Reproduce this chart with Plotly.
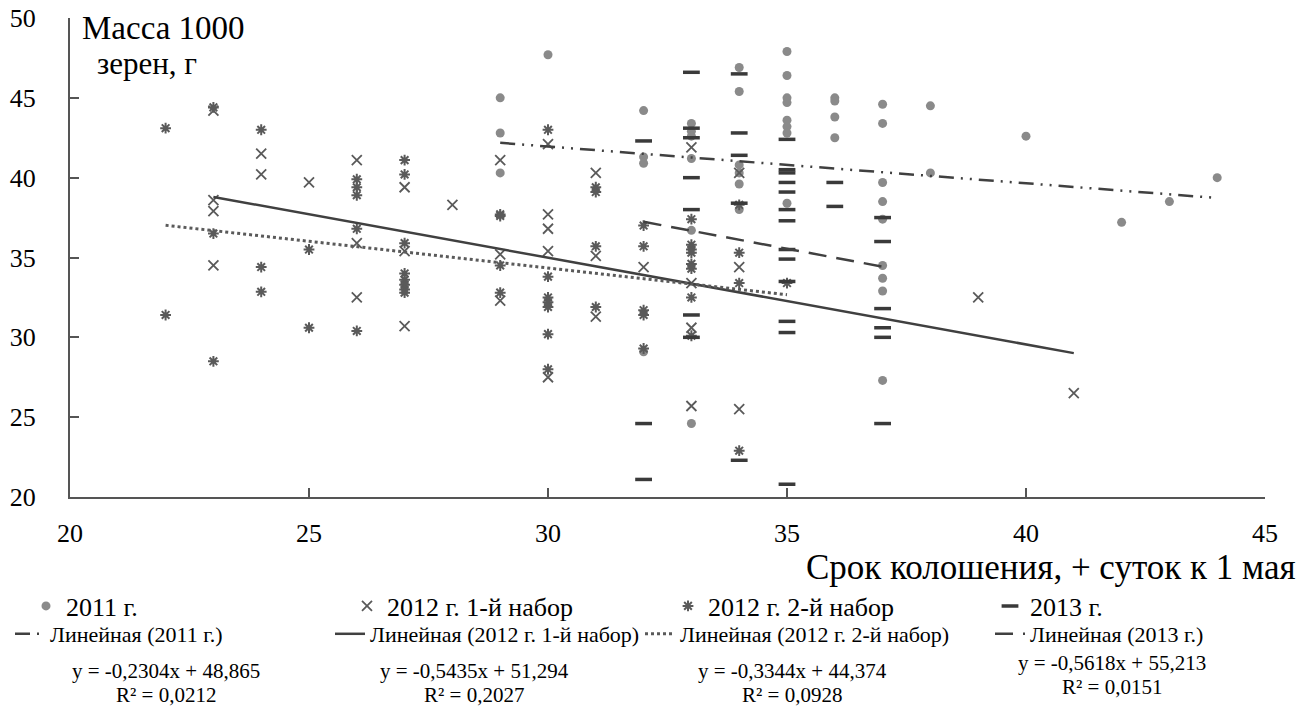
import plotly.graph_objects as go

# ---------------- data ----------------
x_2011 = [29, 29, 29, 30, 32, 32, 32, 32, 33, 33, 33, 33, 33, 33,
          34, 34, 34, 34, 34, 34, 35, 35, 35, 35, 35, 35, 35, 35,
          36, 36, 36, 36, 37, 37, 37, 37, 37, 37, 37, 37, 37,
          38, 38, 40, 42, 43, 44]
y_2011 = [45.0, 42.8, 40.3, 47.7, 44.2, 41.3, 40.9, 29.1, 43.4, 42.9, 42.6, 41.2, 36.7, 24.6,
          46.9, 45.4, 40.8, 40.3, 39.6, 38.0, 47.9, 46.4, 45.0, 44.7, 43.6, 43.2, 42.8, 38.4,
          45.0, 44.8, 43.8, 42.5, 44.6, 43.4, 39.7, 38.5, 37.4, 34.5, 33.7, 32.9, 27.3,
          44.5, 40.3, 42.6, 37.2, 38.5, 40.0]

x_2012_1 = [23, 23, 23, 23, 24, 24, 25, 26, 26, 26, 27, 27, 27, 28,
            29, 29, 29, 30, 30, 30, 30, 30, 31, 31, 31, 32,
            33, 33, 33, 33, 34, 34, 34, 39, 41]
y_2012_1 = [44.2, 38.6, 37.9, 34.5, 41.5, 40.2, 39.7, 41.1, 35.9, 32.5, 39.4, 35.4, 30.7, 38.3,
            41.1, 35.2, 32.3, 42.1, 37.7, 36.8, 35.4, 27.5, 40.3, 35.1, 31.3, 34.4,
            41.9, 33.4, 30.6, 25.7, 40.3, 34.4, 25.5, 32.5, 26.5]

x_2012_2 = [22, 22, 23, 23, 23, 24, 24, 24, 25, 25,
            26, 26, 26, 26, 26, 27, 27, 27, 27, 27, 27, 27, 27,
            29, 29, 29, 29, 30, 30, 30, 30, 30, 30, 30,
            31, 31, 31, 31, 32, 32, 32, 32, 32,
            33, 33, 33, 33, 33, 33, 33, 33, 34, 34, 34, 34, 35]
y_2012_2 = [43.1, 31.4, 44.4, 36.5, 28.5, 43.0, 34.4, 32.85, 35.5, 30.6,
            39.9, 39.4, 38.9, 36.8, 30.4, 41.1, 40.2, 35.9, 34.0, 33.6, 33.3, 33.0, 32.8,
            37.7, 37.6, 34.5, 32.8, 43.0, 33.8, 32.5, 32.2, 31.9, 30.2, 28.0,
            39.4, 39.1, 35.7, 31.9, 37.0, 35.7, 31.7, 31.4, 29.3,
            37.4, 35.8, 35.5, 35.3, 34.6, 34.3, 32.5, 30.1, 38.3, 35.3, 33.4, 22.9, 33.4]

x_2013 = [32, 32, 32, 33, 33, 33, 33, 33, 33, 33, 34, 34, 34, 34, 34,
          35, 35, 35, 35, 35, 35, 35, 35, 35, 35, 35, 35, 35,
          36, 36, 37, 37, 37, 37, 37, 37]
y_2013 = [42.3, 24.6, 21.1, 46.6, 43.1, 42.5, 40.0, 38.0, 31.4, 30.0, 46.5, 42.8, 41.4, 38.4, 22.3,
          42.4, 40.5, 40.3, 39.7, 39.1, 38.0, 37.3, 35.5, 34.9, 33.5, 31.0, 30.3, 20.8,
          39.7, 38.2, 37.5, 36.0, 31.8, 30.6, 30.0, 24.6]

series_names = ["2011 г.", "2012 г. 1-й набор", "2012 г. 2-й набор", "2013 г."]
trend_names = ["Линейная (2011 г.)", "Линейная (2012 г. 1-й набор)",
               "Линейная (2012 г. 2-й набор)", "Линейная (2013 г.)"]
slopes = [-0.2304, -0.5435, -0.3344, -0.5618]
intercepts = [48.865, 51.294, 44.374, 55.213]
r2_values = ["0,0212", "0,2027", "0,0928", "0,0151"]

x_ticks = [20, 25, 30, 35, 40, 45]
y_ticks = [20, 25, 30, 35, 40, 45, 50]

# ---------------- figure ----------------
FONT = "Liberation Serif"
W, H = 1304, 713
L, T, R, B = 70, 18, 39, 216
PW, PH = W - L - R, H - T - B
fig = go.Figure()

marker_styles = [
    dict(symbol="circle", size=9, color="#8a8a8a", line=dict(width=0)),
    dict(symbol="x-thin-open", size=10, color="#5a5a5a", line=dict(width=1.8, color="#5a5a5a")),
    dict(symbol="asterisk-open", size=9, color="#5a5a5a", line=dict(width=2, color="#5a5a5a")),
    dict(symbol="line-ew-open", size=12, color="#3a3a3a", line=dict(width=3.5, color="#3a3a3a")),
]
xs = [x_2011, x_2012_1, x_2012_2, x_2013]
ys = [y_2011, y_2012_1, y_2012_2, y_2013]

for i in range(4):
    fig.add_trace(go.Scatter(x=xs[i], y=ys[i], mode="markers", name=series_names[i],
                             marker=marker_styles[i], legend=f"legend{i + 1}" if i else "legend"))

line_styles = [
    dict(color="#404040", width=2.5, dash="15px,7px,2px,7px,2px,7px"),
    dict(color="#404040", width=2.5, dash="solid"),
    dict(color="#5a5a5a", width=3, dash="dot"),
    dict(color="#404040", width=2.5, dash="18px,10px"),
]
for i in range(4):
    x0, x1 = min(xs[i]), max(xs[i])
    fig.add_trace(go.Scatter(x=[x0, x1], y=[slopes[i] * x0 + intercepts[i], slopes[i] * x1 + intercepts[i]],
                             mode="lines", name=trend_names[i], line=line_styles[i],
                             legend=f"legend{i + 5}"))

# pixel helpers
def sx(px):
    return px / W

def sy(py):
    return 1 - py / H

def px_to_paper_x(px):
    return (px - L) / PW

def py_to_paper_y(py):
    return (H - B - py) / PH

# legends: one per entry, placed at pixel positions
row1_x = [26, 347, 668, 990]
row2_x = [10, 330, 640, 990]
legend_layout = {}
for i in range(4):
    key = "legend" if i == 0 else f"legend{i + 1}"
    legend_layout[key] = dict(xref="container", yref="container", x=sx(row1_x[i]), y=sy(606),
                              xanchor="left", yanchor="middle", font=dict(family=FONT, size=26, color="#000"),
                              bgcolor="rgba(0,0,0,0)", borderwidth=0)
    legend_layout[f"legend{i + 5}"] = dict(xref="container", yref="container", x=sx(row2_x[i]), y=sy(634),
                                           xanchor="left", yanchor="middle",
                                           font=dict(family=FONT, size=22, color="#000"),
                                           bgcolor="rgba(0,0,0,0)", borderwidth=0)

# equation annotations
eq_cx = [166, 474, 792, 1112]
eq_y = [671, 671, 671, 663]
for i in range(4):
    fig.add_annotation(xref="paper", yref="paper", x=px_to_paper_x(eq_cx[i]), y=py_to_paper_y(eq_y[i]),
                       text=f"y = {slopes[i]:.4f}x + {intercepts[i]:.3f}".replace(".", ","),
                       showarrow=False, xanchor="center", yanchor="middle",
                       font=dict(family=FONT, size=21, color="#000"))
    fig.add_annotation(xref="paper", yref="paper", x=px_to_paper_x(eq_cx[i]), y=py_to_paper_y(eq_y[i] + 24),
                       text=f"R² = {r2_values[i]}",
                       showarrow=False, xanchor="center", yanchor="middle",
                       font=dict(family=FONT, size=21, color="#000"))

# axis titles
fig.add_annotation(xref="paper", yref="paper", x=px_to_paper_x(163), y=py_to_paper_y(28),
                   text="Масса 1000", showarrow=False, xanchor="center", yanchor="middle",
                   font=dict(family=FONT, size=33, color="#000"))
fig.add_annotation(xref="paper", yref="paper", x=px_to_paper_x(147), y=py_to_paper_y(63),
                   text="зерен, г", showarrow=False, xanchor="center", yanchor="middle",
                   font=dict(family=FONT, size=31, color="#000"))
fig.add_annotation(xref="paper", yref="paper", x=px_to_paper_x(1298), y=py_to_paper_y(567),
                   text="Срок колошения, + суток к 1 мая", showarrow=False, xanchor="right",
                   yanchor="middle", font=dict(family=FONT, size=35, color="#000"))

fig.update_layout(
    width=W, height=H, plot_bgcolor="white", paper_bgcolor="white",
    margin=dict(l=L, r=R, t=T, b=B, autoexpand=False),
    font=dict(family=FONT, color="#000"),
    showlegend=True,
    **legend_layout,
)
fig.update_xaxes(range=[20, 45], tickvals=x_ticks, showgrid=False, zeroline=False, automargin=False,
                 showline=True, linecolor="#555", linewidth=2, ticks="inside", ticklen=9,
                 tickcolor="#555", tickwidth=2, tickfont=dict(family=FONT, size=26, color="#000"),
                 ticklabelstandoff=12)
fig.update_yaxes(range=[20, 50], tickvals=y_ticks, showgrid=False, zeroline=False, automargin=False,
                 showline=True, linecolor="#555", linewidth=2, ticks="inside", ticklen=9,
                 tickcolor="#555", tickwidth=2, tickfont=dict(family=FONT, size=26, color="#000"),
                 ticklabelstandoff=27)

fig.write_html("out.html", config={"displayModeBar": False},
               post_script="document.body.style.margin='0px';")
